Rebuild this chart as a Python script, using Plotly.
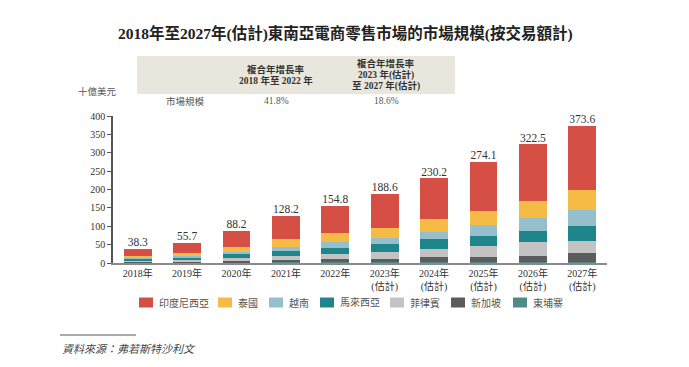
import plotly.graph_objects as go

years = ["2018年", "2019年", "2020年", "2021年", "2022年",
         "2023年<br>(估計)", "2024年<br>(估計)", "2025年<br>(估計)", "2026年<br>(估計)", "2027年<br>(估計)"]
totals = [38.3, 55.7, 88.2, 128.2, 154.8, 188.6, 230.2, 274.1, 322.5, 373.6]

cambodia = [1.0, 1.2, 1.5, 1.6, 1.8, 2.0, 2.1, 2.2, 2.3, 2.4]
singapore = [3.0, 3.8, 5.0, 7.4, 10.0, 10.2, 13.4, 15.5, 18.1, 24.6]
philippines = [2.7, 4.3, 7.8, 10.9, 13.6, 19.0, 23.9, 29.9, 35.4, 34.0]
malaysia = [4.6, 5.5, 10.8, 13.6, 16.4, 21.7, 24.6, 27.2, 32.6, 41.0]
vietnam = [2.8, 4.6, 5.5, 10.9, 14.4, 16.4, 21.7, 29.9, 35.4, 41.0]
thailand = [5.4, 8.2, 13.6, 21.7, 24.4, 27.0, 35.3, 38.1, 46.0, 55.0]
indonesia = [17.8, 28.1, 44.0, 62.1, 74.2, 92.3, 109.2, 131.3, 152.7, 175.6]

series = [
    ("東埔寨", cambodia, "#4f8a86"),
    ("新加坡", singapore, "#5c5c5e"),
    ("菲律賓", philippines, "#c3c3c4"),
    ("馬來西亞", malaysia, "#1e868a"),
    ("越南", vietnam, "#95bfcc"),
    ("泰國", thailand, "#f5bb45"),
    ("印度尼西亞", indonesia, "#d64f45"),
]
legend_order = ["印度尼西亞", "泰國", "越南", "馬來西亞", "菲律賓", "新加坡", "東埔寨"]
legend_px = [139, 218, 269, 320, 390, 451, 513]

FONT = "Liberation Serif, Noto Sans CJK TC, serif"
TXT = "#333333"

fig = go.Figure()
for name, vals, col in series:
    fig.add_trace(go.Bar(x=years, y=vals, name=name, marker=dict(color=col, line=dict(width=0)),
                         showlegend=False))
fig.add_trace(go.Scatter(x=years, y=totals, mode="text", text=[f"{t:.1f}" for t in totals],
                         textposition="top center", textfont=dict(family=FONT, size=11.5, color=TXT),
                         cliponaxis=False, showlegend=False, hoverinfo="skip"))

# page body has an 8px margin: work in reference pixel coordinates, shifted by OFF
OFF = 8
W, H = 689 - OFF, 367 - OFF
L, R, T, B = 113 - OFF, 82, 116 - OFF, 104
PW, PH = W - L - R, H - T - B

def px(x):
    return (x - OFF - L) / PW

def py(y):
    return (H - B - (y - OFF)) / PH

shapes = []
annos = []
# header box
shapes.append(dict(type="rect", xref="paper", yref="paper", x0=px(137), x1=px(455), y0=py(94), y1=py(56),
                   fillcolor="#e9e7dd", line=dict(width=0), layer="below"))

def txt(x, y, s, size=10, anchor="center", color=TXT, bold=False, italic=False, fam=FONT):
    if bold:
        s = f"<b>{s}</b>"
    if italic:
        s = f"<i>{s}</i>"
    annos.append(dict(x=px(x), y=py(y), xref="paper", yref="paper", text=s, showarrow=False,
                      xanchor=anchor, yanchor="middle", font=dict(family=fam, size=size, color=color)))

txt(345, 33, "2018年至2027年(估計)東南亞電商零售市場的市場規模(按交易額計)", size=15.5, bold=True, color="#222222")
txt(276, 69, "複合年增長率", size=9.5, bold=True)
txt(276, 80, "2018 年至 2022 年", size=9.5, bold=True)
txt(386, 63, "複合年增長率", size=9.5, bold=True)
txt(386, 74.5, "2023 年(估計)", size=9.5, bold=True)
txt(386, 86, "至 2027 年(估計)", size=9.5, bold=True)
txt(97, 91, "十億美元", size=9.5, color="#555555")
txt(185, 101, "市場規模", size=9.5, color="#555555")
txt(276, 101, "41.8%", size=9.5, color="#555555")
txt(386, 101, "18.6%", size=9.5, color="#555555")

# legend
color_of = {n: c for n, _, c in series}
for name, x0 in zip(legend_order, legend_px):
    shapes.append(dict(type="rect", xref="paper", yref="paper", x0=px(x0), x1=px(x0 + 14),
                       y0=py(307.5), y1=py(297.5), fillcolor=color_of[name], line=dict(width=0)))
    txt(x0 + 18, 302.5, name, size=10, anchor="left", color="#555555")

# source
shapes.append(dict(type="line", xref="paper", yref="paper", x0=px(60), x1=px(136), y0=py(335), y1=py(335),
                   line=dict(color="#555555", width=1)))
txt(60, 349, "資料來源：弗若斯特沙利文", size=11, anchor="left", color="#444444", italic=True)

fig.update_layout(
    barmode="stack", bargap=0.44,
    width=W, height=H,
    margin=dict(l=L, r=R, t=T, b=B, pad=0),
    plot_bgcolor="white", paper_bgcolor="white",
    shapes=shapes, annotations=annos,
    font=dict(family=FONT, color=TXT, size=10),
    xaxis=dict(showgrid=False, showline=True, linecolor="#8a8a8a", linewidth=2, ticks="",
               tickfont=dict(family=FONT, size=10, color=TXT), fixedrange=True),
    yaxis=dict(range=[0, 400], dtick=50, showgrid=False, showline=True, linecolor="#555555", linewidth=1.5,
               ticks="outside", ticklen=4, tickcolor="#555555", zeroline=False,
               tickfont=dict(family=FONT, size=10, color=TXT), fixedrange=True),
    showlegend=False,
)
fig.write_html("out.html")
